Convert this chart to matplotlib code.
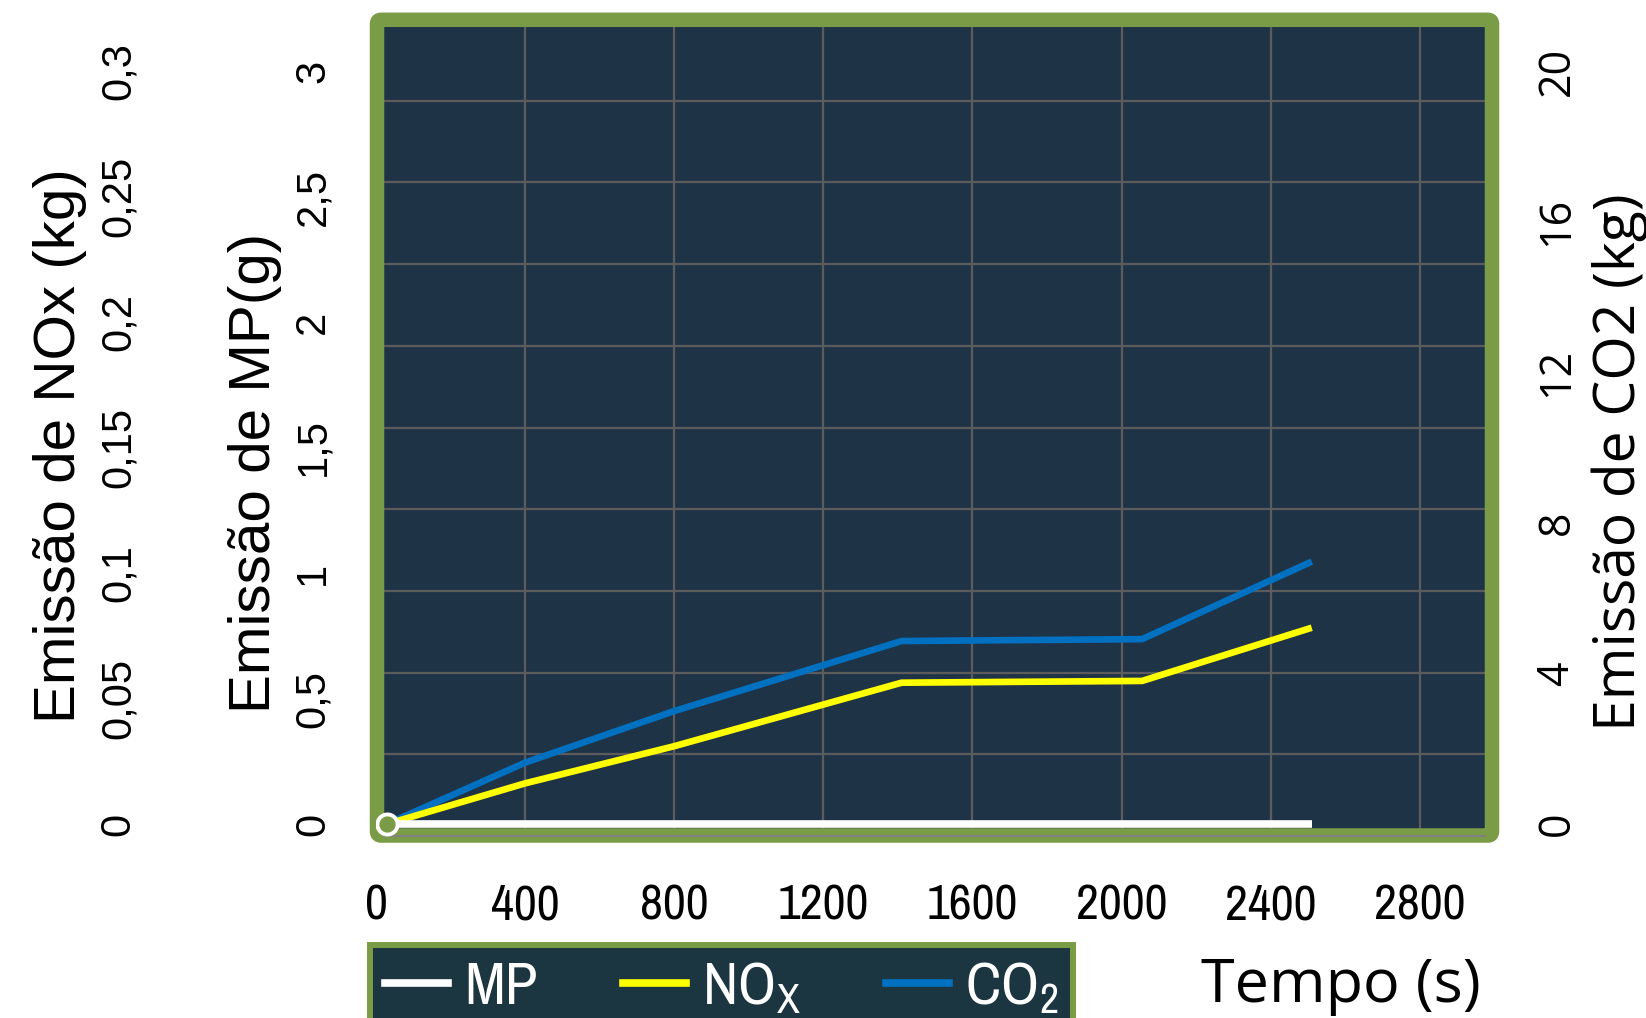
import matplotlib
matplotlib.use('Agg')
import matplotlib.pyplot as plt
from matplotlib import font_manager as fm
from matplotlib.lines import Line2D
from matplotlib.patches import FancyBboxPatch
from matplotlib.transforms import IdentityTransform

# data
tempo = [30, 400, 800, 1410, 2055, 2510]
mp = [0, 0, 0, 0, 0, 0]
nox = [0, 0.0162, 0.0310, 0.0563, 0.0570, 0.0782]
co2 = [0, 1.63, 3.00, 4.86, 4.91, 6.97]

x_ticks = [0, 400, 800, 1200, 1600, 2000, 2400, 2800]
mp_ticks = [0, 0.5, 1, 1.5, 2, 2.5, 3]
mp_labels = ['0', '0,5', '1', '1,5', '2', '2,5', '3']
nox_ticks = [0, 0.05, 0.1, 0.15, 0.2, 0.25, 0.3]
nox_labels = ['0', '0,05', '0,1', '0,15', '0,2', '0,25', '0,3']
co2_ticks = [0, 4, 8, 12, 16, 20]
co2_labels = ['0', '4', '8', '12', '16', '20']
series_names = ['MP', r'NO$_{\mathregular{X}}$', r'CO$_{\mathregular{2}}$']

NAVY = '#1f3346'
GREEN = '#7b9c47'
GRID = '#5c5c5c'
LEG_BG = '#1b3541'
WHITE = '#ffffff'
YELLOW = '#ffff00'
BLUE = '#0070c0'


def narrow_font():
    for f in fm.fontManager.ttflist:
        if 'Narrow' in f.name or 'Condensed' in f.name:
            return f.name, 'normal', True
    for f in fm.fontManager.ttflist:
        if str(f.stretch) in ('condensed', 'semi-condensed', 'extra-condensed'):
            return f.name, str(f.stretch), True
    return 'Roboto', 'normal', False


NARROW, STRETCH, HAS_NARROW = narrow_font()
XTICK_SIZE = 36 if HAS_NARROW else 32
LEG_SIZE = 43 if HAS_NARROW else 38
ARIAL = 'Liberation Sans'
ROUND = 'Open Sans'

W, H = 1646, 1018
L, R, T, B = 376, 1485, 27, 836   # plot box in pixels (top-down)
Y0, Y1 = 824, 71                  # rows of value 0 and of the top tick
GRID_STEP = 81.7
XMAX = (R - L) / 0.3728


def ylims(top_value):
    k = top_value / (Y0 - Y1)
    return (-(B - Y0) * k, top_value + (Y1 - T) * k)


rect = [L / W, 1 - B / H, (R - L) / W, (B - T) / H]
fig = plt.figure(figsize=(W / 100, H / 100), dpi=100)

# background with grid
ax_bg = fig.add_axes(rect, zorder=0)
ax_bg.set_facecolor(NAVY)
ax_bg.set_xlim(0, XMAX)
ax_bg.set_ylim(0, (B - T) / GRID_STEP)
ax_bg.set_xticks(x_ticks[1:])
ax_bg.set_yticks(range(1, 10))
ax_bg.grid(True, color=GRID, linewidth=1.6)
ax_bg.tick_params(length=0, labelbottom=False, labelleft=False)
for s in ax_bg.spines.values():
    s.set_visible(False)

# green frame
frame = FancyBboxPatch((377, H - 835.5), 1492 - 377, 835.5 - 19.8,
                       boxstyle='round,pad=0,rounding_size=4',
                       transform=IdentityTransform(), facecolor='none',
                       edgecolor=GREEN, linewidth=14.5 * 0.72,
                       joinstyle='round', zorder=1)
fig.add_artist(frame)

ax_co2 = fig.add_axes(rect, zorder=3)
ax_nox = fig.add_axes(rect, zorder=3.5, sharex=ax_co2)
ax_mp = fig.add_axes(rect, zorder=4, sharex=ax_co2)
for a in (ax_co2, ax_nox, ax_mp):
    a.patch.set_visible(False)
    for s in a.spines.values():
        s.set_visible(False)
ax_co2.set_xlim(0, XMAX)

ax_co2.plot(tempo, co2, color=BLUE, lw=4.8, solid_capstyle='butt')
ax_nox.plot(tempo, nox, color=YELLOW, lw=4.8, solid_capstyle='butt')
ax_mp.plot(tempo, mp, color=WHITE, lw=5.5, solid_capstyle='butt',
           marker='o', markevery=[0], ms=14.5, mfc=GREEN, mec=WHITE, mew=2.8)

ax_co2.set_ylim(*ylims(20))
ax_nox.set_ylim(*ylims(0.3))
ax_mp.set_ylim(*ylims(3))

# x axis
ax_co2.spines['bottom'].set_visible(True)
ax_co2.spines['bottom'].set_color('#808080')
ax_co2.spines['bottom'].set_linewidth(1.5)
ax_co2.spines['bottom'].set_bounds((384 - L) / 0.3728, XMAX)
ax_co2.set_xticks(x_ticks)
ax_co2.tick_params(axis='x', length=0, pad=34, labelsize=XTICK_SIZE)
for lbl in ax_co2.get_xticklabels():
    lbl.set_fontfamily(NARROW)
    lbl.set_fontstretch(STRETCH)

# CO2 axis on the right
ax_co2.yaxis.tick_right()
ax_co2.set_yticks(co2_ticks, co2_labels)
ax_co2.tick_params(axis='y', length=0, pad=36, labelsize=31,
                   labelrotation=90, labelfontfamily=ROUND)

# MP axis
ax_mp.set_yticks(mp_ticks, mp_labels)
ax_mp.tick_params(axis='y', length=0, pad=31, labelsize=30,
                  labelrotation=90, labelfontfamily=ARIAL)
ax_mp.tick_params(axis='x', labelbottom=False, length=0)

# NOx axis
ax_nox.set_yticks(nox_ticks, nox_labels)
ax_nox.tick_params(axis='y', length=0, pad=171, labelsize=30,
                   labelrotation=90, labelfontfamily=ARIAL)
ax_nox.tick_params(axis='x', labelbottom=False, length=0)

for a in (ax_co2, ax_nox, ax_mp):
    for lbl in a.get_yticklabels():
        lbl.set_va('center')

fig.text(60 / W, 1 - 446 / H, 'Emissão de NOx (kg)', rotation=90,
         ha='center', va='center', fontsize=42, family=ARIAL)
fig.text(255 / W, 1 - 473 / H, 'Emissão de MP(g)', rotation=90,
         ha='center', va='center', fontsize=42, family=ARIAL)
fig.text(1620 / W, 1 - 462 / H, 'Emissão de CO2 (kg)', rotation=90,
         ha='center', va='center', fontsize=41, family=ROUND)
fig.text(1341 / W, 1 - 986 / H, 'Tempo (s)', ha='center', va='center',
         fontsize=44, family=ROUND)

handles = [Line2D([], [], color=WHITE, lw=5.5),
           Line2D([], [], color=YELLOW, lw=5.5),
           Line2D([], [], color=BLUE, lw=5.5)]
leg = fig.legend(handles, series_names, loc='upper left',
                 bbox_to_anchor=(370 / W, 1 - 946 / H, (1073 - 370) / W, 0.001),
                 mode='expand', borderaxespad=0,
                 ncol=3, fancybox=False, framealpha=1, borderpad=0.25,
                 handlelength=1.05, handletextpad=0.27, columnspacing=1.2,
                 prop={'family': NARROW, 'size': LEG_SIZE, 'stretch': STRETCH})
leg.get_frame().set_facecolor(LEG_BG)
leg.get_frame().set_edgecolor(GREEN)
leg.get_frame().set_linewidth(4.3)
for t in leg.get_texts():
    t.set_color(WHITE)

fig.savefig('out.png', dpi=100)
